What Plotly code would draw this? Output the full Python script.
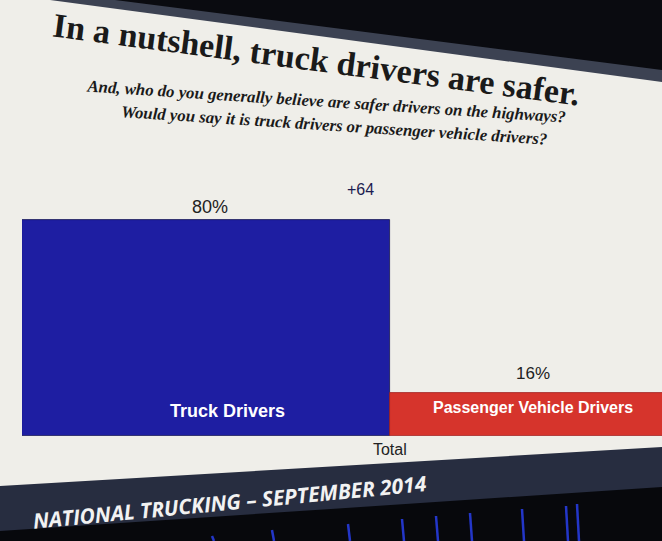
import plotly.graph_objects as go

# ---- data ----
category = ["Total"]
series_names = ["Truck Drivers", "Passenger Vehicle Drivers"]
series_values = [80, 16]
series_colors = ["#1e1ea2", "#d6342c"]
title_text = "In a nutshell, truck drivers are safer."
subtitle_lines = ["And, who do you generally believe are safer drivers on the highways?",
                  "Would you say it is truck drivers or passenger vehicle drivers?"]
footer_text = "NATIONAL TRUCKING \u2013 SEPTEMBER 2014"

W, H = 662, 541
def px(x):
    return x / W
def py(y):
    return 1 - y / H

fig = go.Figure()
for name, val, col in zip(series_names, series_values, series_colors):
    fig.add_trace(go.Bar(
        x=category, y=[val], name=name,
        marker=dict(color=col, line=dict(width=0.8, color="#141450" if val > 50 else "#a02020")),
        hoverinfo="skip",
    ))

def poly(pts, color):
    d = "M " + " L ".join(f"{px(a)} {py(b)}" for a, b in pts) + " Z"
    return dict(type="path", xref="paper", yref="paper", path=d,
                fillcolor=color, line=dict(width=0), layer="above")

shapes = [
    # slide frame strip and dark room above the slide (top right)
    poly([(50, 0), (662, 0), (662, 82)], "#3c4252"),
    poly([(115, 0), (662, 0), (662, 70)], "#0a0b10"),
    # footer band
    poly([(0, 486), (662, 447), (662, 541), (0, 541)], "#272d40"),
    # black below the screen
    poly([(0, 531), (662, 487), (662, 541), (0, 541)], "#07080c"),
]
# blue stage-light streaks below the screen
for sx, sy in [(212, 532), (272, 526), (348, 520), (402, 515), (436, 512), (470, 509),
               (522, 505), (566, 502), (577, 500)]:
    shapes.append(dict(type="line", xref="paper", yref="paper",
                       x0=px(sx), y0=py(sy + 4), x1=px(sx + 2), y1=py(541),
                       line=dict(color="#2336c8", width=2.5), layer="above"))

ann = []
# title and subtitle
ann.append(dict(text=f"<b>{title_text}</b>", xref="paper", yref="paper",
                x=px(316), y=py(60), xanchor="center", yanchor="middle",
                showarrow=False, textangle=7.5,
                font=dict(family="Liberation Serif", size=34, color="#1a1a1a")))
ann.append(dict(text=f"<b><i>{subtitle_lines[0]}</i></b>", xref="paper", yref="paper",
                x=px(326), y=py(102), xanchor="center", yanchor="middle",
                showarrow=False, textangle=3.7,
                font=dict(family="Liberation Serif", size=16.8, color="#1a1a1a")))
ann.append(dict(text=f"<b><i>{subtitle_lines[1]}</i></b>", xref="paper", yref="paper",
                x=px(335), y=py(125), xanchor="center", yanchor="middle",
                showarrow=False, textangle=3.7,
                font=dict(family="Liberation Serif", size=16.8, color="#1a1a1a")))
# value labels
ann.append(dict(text=f"{series_values[0]}%", x=-0.245, y=series_values[0], xref="x", yref="y",
                yanchor="bottom", showarrow=False, yshift=1,
                font=dict(family="Liberation Sans", size=18, color="#222222")))
ann.append(dict(text=f"{series_values[1]}%", x=0.195, y=series_values[1], xref="x", yref="y",
                yanchor="bottom", showarrow=False, yshift=8,
                font=dict(family="Liberation Sans", size=17, color="#222222")))
ann.append(dict(text=f"+{series_values[0] - series_values[1]}", x=-0.04, y=series_values[0], xref="x", yref="y",
                yanchor="bottom", showarrow=False, yshift=20,
                font=dict(family="Liberation Sans", size=16, color="#1c1c50")))
# bar names inside
ann.append(dict(text=f"<b>{series_names[0]}</b>", x=-0.22, y=0, xref="x", yref="y",
                yanchor="bottom", showarrow=False, yshift=13,
                font=dict(family="Liberation Sans", size=18, color="white")))
ann.append(dict(text=f"<b>{series_names[1]}</b>", x=0.195, y=0, xref="x", yref="y",
                yanchor="bottom", showarrow=False, yshift=18,
                font=dict(family="Liberation Sans", size=16, color="white")))
# footer
ann.append(dict(text=f"<b><i>{footer_text}</i></b>", xref="paper", yref="paper",
                x=px(229), y=py(502), xanchor="center", yanchor="middle",
                showarrow=False, textangle=-5.5,
                font=dict(family="Open Sans", size=21, color="#f2f2f2")))

fig.update_layout(
    width=W, height=H,
    margin=dict(l=0, r=0, t=0, b=0),
    paper_bgcolor="#efeee9", plot_bgcolor="rgba(0,0,0,0)",
    barmode="group", bargap=0, bargroupgap=0,
    showlegend=False,
    shapes=shapes, annotations=ann,
    xaxis=dict(domain=[px(22), 1], range=[-0.5, 0.37], showgrid=False, zeroline=False,
               showline=False, ticks="", tickfont=dict(family="Liberation Sans", size=16, color="#222222"),
               ticklabelstandoff=2, fixedrange=True),
    yaxis=dict(domain=[py(436), py(160)], range=[0, 102], visible=False, fixedrange=True),
)

fig.write_html("out.html", config={"displayModeBar": False},
               post_script="document.body.style.margin='0';document.body.style.overflow='hidden';")
